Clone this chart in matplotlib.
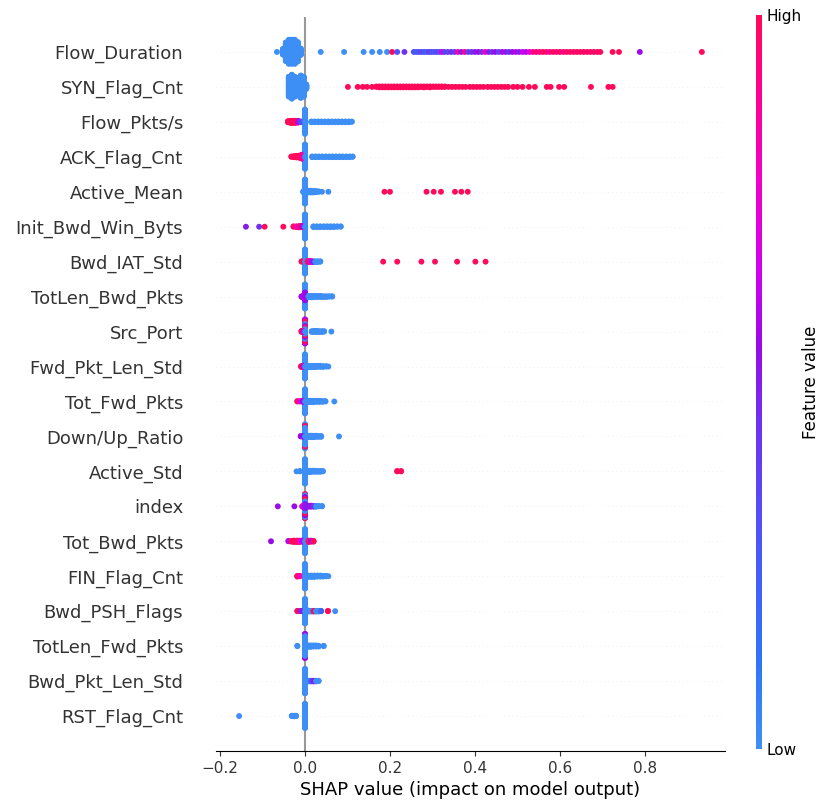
import numpy as np
import matplotlib.pyplot as plt
from matplotlib.colors import LinearSegmentedColormap
from matplotlib.cm import ScalarMappable

# features top to bottom, each row is a list of (shap value, feature level 0..1, count)
FEATURES = [
    "Flow_Duration", "SYN_Flag_Cnt", "Flow_Pkts/s", "ACK_Flag_Cnt", "Active_Mean",
    "Init_Bwd_Win_Byts", "Bwd_IAT_Std", "TotLen_Bwd_Pkts", "Src_Port", "Fwd_Pkt_Len_Std",
    "Tot_Fwd_Pkts", "Down/Up_Ratio", "Active_Std", "index", "Tot_Bwd_Pkts",
    "FIN_Flag_Cnt", "Bwd_PSH_Flags", "TotLen_Fwd_Pkts", "Bwd_Pkt_Len_Std", "RST_Flag_Cnt",
]

FLOW_DURATION = [
    (-0.066, 0, 1), (-0.052, 0, 16), (-0.045, 0, 50), (-0.038, 0, 64), (-0.031, 0, 64),
    (-0.024, 0, 64), (-0.017, 0, 52), (-0.010, 0, 18),
    (0.037, 0, 1), (0.092, 0, 1), (0.138, 0, 1), (0.158, 0, 1), (0.176, 0, 1), (0.193, 0, 1),
    (0.205, 1, 1), (0.217, 0.3, 1), (0.234, 0.45, 1),
    (0.256, 0.3, 1), (0.262, 0.25, 1), (0.268, 0.3, 1), (0.274, 0.35, 1), (0.280, 0.3, 1),
    (0.286, 0.25, 1), (0.292, 0.4, 1), (0.298, 0.3, 1), (0.304, 0.3, 1), (0.310, 0.35, 1),
    (0.316, 0.3, 1), (0.322, 0.7, 1), (0.328, 0.4, 1),
    (0.336, 0.35, 1), (0.344, 0.45, 1), (0.352, 0.4, 1), (0.360, 0.85, 1), (0.368, 0.5, 1),
    (0.376, 0.9, 1), (0.384, 0.4, 1), (0.392, 0.45, 1), (0.400, 0.5, 1), (0.408, 0.55, 1),
    (0.416, 0.45, 1), (0.424, 0.8, 1), (0.432, 0.5, 1), (0.440, 0.45, 1), (0.448, 0.55, 1),
    (0.456, 0.35, 1), (0.464, 0.6, 1), (0.472, 0.5, 1), (0.480, 0.45, 1), (0.488, 0.55, 1),
    (0.496, 0.6, 1), (0.504, 0.5, 1), (0.512, 0.65, 1), (0.520, 0.6, 1), (0.528, 0.7, 1),
    (0.536, 0.9, 1), (0.544, 0.95, 1), (0.552, 0.9, 1), (0.560, 1, 1), (0.568, 0.95, 1),
    (0.576, 0.9, 1), (0.584, 1, 1), (0.592, 0.95, 1), (0.600, 1, 1), (0.608, 0.9, 1),
    (0.616, 1, 1), (0.624, 0.95, 1), (0.632, 1, 1), (0.640, 0.95, 1), (0.648, 1, 1),
    (0.656, 0.95, 1), (0.664, 1, 1), (0.672, 0.95, 1), (0.680, 1, 1), (0.688, 0.95, 1),
    (0.695, 1, 1), (0.724, 1, 1), (0.739, 1, 1), (0.788, 0.55, 1), (0.934, 1, 1),
]

SYN_FLAG_CNT = [
    (-0.038, 0, 50), (-0.031, 0, 60), (-0.024, 0, 50), (-0.017, 0, 44), (-0.010, 0, 56),
    (-0.003, 0, 50), (0.003, 0, 12),
    (0.101, 1, 1), (0.124, 1, 1), (0.136, 1, 1), (0.146, 1, 1), (0.158, 1, 1),
    (0.168, 1, 2), (0.175, 1, 3), (0.182, 1, 3), (0.189, 1, 3), (0.196, 1, 3), (0.203, 1, 3),
    (0.210, 1, 3), (0.217, 1, 3), (0.224, 1, 3), (0.231, 1, 3), (0.238, 1, 3), (0.245, 1, 3),
    (0.252, 1, 3), (0.259, 1, 3), (0.266, 1, 3), (0.273, 1, 2), (0.280, 1, 3), (0.287, 1, 2),
    (0.294, 1, 3), (0.301, 1, 2), (0.308, 1, 2), (0.315, 1, 2), (0.322, 1, 2), (0.329, 1, 2),
    (0.338, 1, 1), (0.346, 1, 1), (0.354, 1, 1), (0.362, 1, 1), (0.370, 1, 1), (0.378, 1, 1),
    (0.388, 1, 1), (0.396, 1, 1), (0.404, 1, 1), (0.412, 1, 1), (0.420, 1, 1), (0.430, 1, 1),
    (0.438, 1, 1), (0.446, 1, 1), (0.454, 1, 1), (0.462, 1, 1), (0.470, 1, 1), (0.478, 1, 1),
    (0.490, 1, 1), (0.500, 1, 1), (0.512, 1, 1),
    (0.527, 1, 1), (0.541, 1, 1), (0.569, 1, 1), (0.578, 1, 1), (0.598, 1, 1), (0.610, 1, 1),
    (0.673, 1, 1), (0.714, 1, 1), (0.724, 1, 1),
]

FLOW_PKTS_S = [
    (-0.040, 1, 4), (-0.034, 1, 7), (-0.028, 1, 7), (-0.022, 1, 7), (-0.016, 0.6, 6),
    (-0.010, 0.3, 3), (0.0, 0, 72),
    (0.015, 0, 3), (0.023, 0, 3), (0.031, 0, 3), (0.039, 0, 3), (0.047, 0, 3), (0.055, 0, 3),
    (0.063, 0, 3), (0.071, 0, 3), (0.079, 0, 3), (0.087, 0, 3), (0.095, 0, 3), (0.103, 0, 3),
    (0.110, 0, 2),
]

ACK_FLAG_CNT = [
    (-0.032, 1, 2), (-0.026, 1, 4), (-0.020, 1, 6), (-0.013, 1, 8), (-0.007, 0.85, 14),
    (0.0, 0, 80),
    (0.017, 0, 3), (0.025, 0, 3), (0.033, 0, 3), (0.041, 0, 3), (0.049, 0, 3), (0.057, 0, 3),
    (0.065, 0, 3), (0.073, 0, 3), (0.081, 0, 3), (0.089, 0, 3), (0.097, 0, 3), (0.105, 0, 3),
    (0.112, 0, 2),
]

ACTIVE_MEAN = [
    (-0.004, 0, 3), (0.0, 0, 72), (0.008, 0, 6), (0.014, 0, 6), (0.020, 0, 5), (0.026, 0, 4),
    (0.032, 0, 2), (0.040, 0, 1), (0.055, 0, 1),
    (0.187, 1, 1), (0.200, 1, 1), (0.286, 1, 1), (0.303, 1, 1), (0.320, 1, 1),
    (0.353, 1, 1), (0.368, 1, 1), (0.383, 1, 1),
]

INIT_BWD_WIN_BYTS = [
    (-0.139, 0.5, 1), (-0.108, 0.45, 1), (-0.095, 1, 1), (-0.051, 1, 1), (-0.027, 1, 2),
    (-0.020, 0.8, 3), (-0.013, 1, 5), (-0.007, 0.6, 4), (0.0, 0, 72),
    (0.020, 0, 3), (0.028, 0, 3), (0.036, 0, 3), (0.044, 0, 3), (0.052, 0, 3), (0.060, 0, 3),
    (0.068, 0, 3), (0.076, 0, 2), (0.084, 0, 2),
]

BWD_IAT_STD = [
    (-0.008, 1, 2), (0.0, 0, 72), (0.006, 1, 4), (0.012, 0.7, 4), (0.018, 0.5, 3),
    (0.024, 0, 3), (0.030, 0, 3), (0.036, 0, 2),
    (0.184, 1, 1), (0.217, 1, 1), (0.274, 1, 1), (0.306, 1, 1), (0.358, 1, 1),
    (0.401, 1, 1), (0.425, 1, 1),
]

TOTLEN_BWD_PKTS = [
    (-0.008, 0.55, 3), (-0.004, 0.6, 3), (0.0, 0.55, 24), (0.0, 0, 48),
    (0.008, 0, 5), (0.015, 0, 5), (0.022, 0, 4), (0.029, 0, 4), (0.036, 0, 4), (0.043, 0, 3),
    (0.050, 0, 3), (0.057, 0, 2), (0.064, 0, 2),
]

SRC_PORT = [
    (-0.008, 1, 4), (-0.004, 0.6, 3),
    (0.0, 0, 14), (0.0, 1, 10), (0.0, 0.5, 10), (0.0, 0, 10), (0.0, 1, 16), (0.0, 0.6, 12),
    (0.016, 0, 3), (0.022, 0, 4), (0.028, 0, 4), (0.034, 0, 3), (0.040, 0, 3), (0.045, 0, 2),
    (0.062, 0, 1),
]

FWD_PKT_LEN_STD = [
    (-0.009, 1, 3), (-0.004, 0.6, 4), (0.0, 0, 72),
    (0.008, 0, 5), (0.015, 0, 5), (0.022, 0, 5), (0.029, 0, 4), (0.036, 0, 4), (0.043, 0, 3),
    (0.050, 0, 2), (0.055, 0, 1),
]

TOT_FWD_PKTS = [
    (-0.018, 1, 2), (-0.012, 0.7, 2), (-0.005, 0.55, 4), (0.0, 0, 72),
    (0.006, 0, 5), (0.013, 0, 5), (0.020, 0, 5), (0.027, 0, 4), (0.034, 0, 4), (0.041, 0, 3),
    (0.048, 0, 2), (0.069, 0, 1),
]

DOWN_UP_RATIO = [
    (-0.010, 0.55, 2), (-0.004, 0.5, 3), (0.0, 0, 50), (0.0, 1, 12), (0.0, 0, 10),
    (0.008, 0, 5), (0.014, 0, 5), (0.020, 0, 5), (0.026, 0, 4), (0.032, 0, 3), (0.038, 0, 3),
    (0.080, 0, 1),
]

ACTIVE_STD = [
    (-0.020, 0, 1), (-0.012, 0, 2), (0.0, 0, 75),
    (0.006, 0, 5), (0.012, 0, 5), (0.018, 0, 4), (0.024, 0, 4), (0.030, 0, 3), (0.036, 0, 3),
    (0.042, 0, 2), (0.217, 1, 2), (0.226, 1, 2),
]

INDEX = [
    (-0.064, 0.55, 1), (-0.025, 0.55, 1), (-0.006, 0.7, 3),
    (0.0, 0.5, 14), (0.0, 0, 16), (0.0, 1, 14), (0.0, 0.55, 12), (0.0, 0, 10), (0.0, 1, 8),
    (0.008, 0.5, 4), (0.014, 0.6, 4), (0.020, 0.4, 3), (0.026, 0, 3), (0.032, 0, 2),
    (0.040, 0, 2),
]

TOT_BWD_PKTS = [
    (-0.080, 0.55, 1), (-0.039, 0.6, 2), (-0.032, 1, 3), (-0.026, 1, 5), (-0.019, 1, 5),
    (-0.013, 0.8, 5), (-0.007, 0.6, 4), (0.0, 0, 72),
    (0.008, 1, 5), (0.014, 0.6, 4), (0.020, 1, 3),
]

FIN_FLAG_CNT = [
    (-0.018, 1, 3), (-0.012, 0.8, 2), (0.0, 0, 75),
    (0.008, 0, 5), (0.015, 0, 5), (0.022, 0, 5), (0.029, 0, 4), (0.036, 0, 4), (0.043, 0, 3),
    (0.050, 0, 2), (0.055, 0, 1),
]

BWD_PSH_FLAGS = [
    (-0.018, 1, 2), (-0.010, 0.5, 2), (0.0, 0, 75),
    (0.008, 0, 4), (0.014, 0, 3), (0.020, 1, 3), (0.026, 0, 3), (0.032, 0, 3),
    (0.038, 0.2, 2), (0.054, 1, 2), (0.071, 0, 1),
]

TOTLEN_FWD_PKTS = [
    (-0.018, 0, 2), (0.0, 0, 60), (0.0, 0.55, 14),
    (0.008, 0, 5), (0.014, 0, 5), (0.020, 0, 4), (0.026, 0, 4), (0.032, 0, 3), (0.044, 0, 2),
]

BWD_PKT_LEN_STD = [
    (0.0, 0, 75), (0.008, 0, 3), (0.014, 0.3, 3), (0.020, 0.5, 3), (0.026, 0, 3),
    (0.032, 0, 2),
]

RST_FLAG_CNT = [
    (-0.155, 0, 1), (-0.031, 0, 2), (-0.025, 0, 3), (-0.021, 0, 2), (0.0, 0, 80),
]

ROWS = [
    FLOW_DURATION, SYN_FLAG_CNT, FLOW_PKTS_S, ACK_FLAG_CNT, ACTIVE_MEAN,
    INIT_BWD_WIN_BYTS, BWD_IAT_STD, TOTLEN_BWD_PKTS, SRC_PORT, FWD_PKT_LEN_STD,
    TOT_FWD_PKTS, DOWN_UP_RATIO, ACTIVE_STD, INDEX, TOT_BWD_PKTS,
    FIN_FLAG_CNT, BWD_PSH_FLAGS, TOTLEN_FWD_PKTS, BWD_PKT_LEN_STD, RST_FLAG_CNT,
]

AXIS_COLOR = "#333333"
ROW_HEIGHT = 0.4

shap_cmap = LinearSegmentedColormap.from_list("red_blue", [
    (0.0, "#3d8ff5"), (0.12, "#2f74f8"), (0.3, "#5052f7"), (0.45, "#7030ef"),
    (0.55, "#9a0ae6"), (0.65, "#d000ee"), (0.78, "#f200c8"), (0.9, "#ff0090"),
    (1.0, "#ff0a5a"),
])


def swarm(row):
    """Expand (value, level, count) tuples and stack equal values above/below the row."""
    xs, cs, ys = [], [], []
    layers = {}
    for v, lvl, n in row:
        for _ in range(n):
            layer = layers.get(v, 0)
            ys.append(np.ceil(layer / 2) * ((layer % 2) * 2 - 1))
            layers[v] = layer + 1
            xs.append(v)
            cs.append(lvl)
    xs, cs, ys = np.array(xs), np.array(cs), np.array(ys, dtype=float)
    ys *= 0.9 * (ROW_HEIGHT / np.max(ys + 1))
    order = np.argsort(-np.abs(ys), kind="stable")  # outer dots first, centre on top
    return xs[order], cs[order], ys[order]


fig = plt.figure(figsize=(8.3, 8.08), dpi=100)
ax = fig.add_axes([216 / 830, 57 / 808, 509 / 830, 734 / 808])

n = len(FEATURES)
ax.axvline(x=0, color="#999999", zorder=-1)
for i, row in enumerate(ROWS):
    pos = n - 1 - i
    ax.axhline(y=pos, color="#e4e4e4", lw=0.5, dashes=(1, 5), zorder=-1)
    xs, cs, ys = swarm(row)
    ax.scatter(xs, pos + ys, c=cs, cmap=shap_cmap, vmin=0, vmax=1, s=18,
               linewidth=0, alpha=1, zorder=3, rasterized=True)

ax.xaxis.set_ticks_position("bottom")
ax.yaxis.set_ticks_position("none")
for side in ["right", "top", "left"]:
    ax.spines[side].set_visible(False)
ax.tick_params(color=AXIS_COLOR, labelcolor=AXIS_COLOR)
ax.set_yticks(range(n))
ax.set_yticklabels(FEATURES[::-1], fontsize=13)
ax.tick_params("y", length=20, width=0.5, which="major")
ax.tick_params("x", labelsize=11)
ax.set_ylim(-1, n)
ax.set_xlabel("SHAP value (impact on model output)", fontsize=13)

cax = fig.add_axes([756 / 830, 59 / 808, 6 / 830, 734 / 808])
m = ScalarMappable(cmap=shap_cmap)
m.set_array([0, 1])
cb = fig.colorbar(m, cax=cax, ticks=[0, 1])
cb.set_ticklabels(["Low", "High"])
cb.set_label("Feature value", size=12, labelpad=0)
cb.ax.tick_params(labelsize=11, length=0)
cb.outline.set_visible(False)

fig.savefig("out.png", dpi=100)
